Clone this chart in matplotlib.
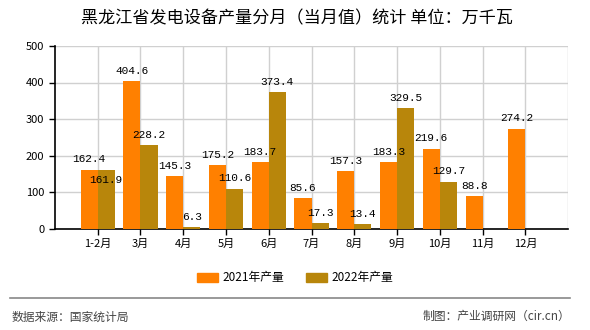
import matplotlib.pyplot as plt
import numpy as np
from matplotlib.patches import Patch
from matplotlib.lines import Line2D

plt.rcParams['font.family'] = ['Noto Sans CJK SC', 'DejaVu Sans']

months = ['1-2月', '3月', '4月', '5月', '6月', '7月', '8月', '9月', '10月', '11月', '12月']
prod_2021 = [162.4, 404.6, 145.3, 175.2, 183.7, 85.6, 157.3, 183.3, 219.6, 88.8, 274.2]
prod_2022 = [161.9, 228.2, 6.3, 110.6, 373.4, 17.3, 13.4, 329.5, 129.7, None, None]

c21 = '#ff8000'
c22 = '#b8860b'

fig = plt.figure(figsize=(5.9, 3.3), dpi=100)
ax = fig.add_axes([0.093, 0.306, 0.87, 0.555])

x = np.arange(len(months))
w = 0.4
ax.bar(x - w/2, prod_2021, width=w, color=c21, zorder=3)
x22 = [i for i, v in zip(x, prod_2022) if v is not None]
v22 = [v for v in prod_2022 if v is not None]
ax.bar(np.array(x22) + w/2, v22, width=w, color=c22, zorder=3)

# value labels (the first 2022 label is pushed down to clear the 2021 one)
for i, v in zip(x, prod_2021):
    ax.text(i - w/2, v + 14, '%.1f' % v, ha='center', va='bottom',
            fontsize=8, family='Liberation Mono', zorder=4)
for i, v in zip(x22, v22):
    dy = 14 if i != 0 else -42
    ax.text(i + w/2, v + dy, '%.1f' % v, ha='center', va='bottom',
            fontsize=8, family='Liberation Mono', zorder=4)

ax.set_xlim(-1, 11)
ax.set_ylim(0, 500)
ax.set_yticks(range(0, 501, 100))
ax.set_xticks(x)
ax.set_xticklabels(months, fontsize=8)
ax.tick_params(axis='y', labelsize=8, length=4, width=1)
ax.tick_params(axis='x', length=4, width=1, pad=3)
ax.grid(True, color='#d0d0d0', linewidth=1, zorder=0)
for s in ['top', 'right']:
    ax.spines[s].set_visible(False)
ax.axvline(11, color='#d0d0d0', linewidth=1, zorder=0)
ax.spines['left'].set_linewidth(1.2)
ax.spines['bottom'].set_linewidth(1.2)

fig.text(0.503, 0.945, '黑龙江省发电设备产量分月（当月值）统计 单位：万千瓦',
         ha='center', va='center', fontsize=12.3)

handles = [Patch(color=c21, label='2021年产量'), Patch(color=c22, label='2022年产量')]
fig.legend(handles=handles, loc='center', bbox_to_anchor=(0.5, 0.158), ncol=2,
           frameon=False, fontsize=8.5, handlelength=1.8, handleheight=0.8,
           columnspacing=1.8, handletextpad=0.4)

fig.add_artist(Line2D([0.017, 0.966], [0.097, 0.097], color='#888888', linewidth=1.2))
fig.text(0.02, 0.04, '数据来源：国家统计局', ha='left', va='center', fontsize=8.5, color='#444444')
fig.text(0.966, 0.04, '制图：产业调研网（cir.cn）', ha='right', va='center', fontsize=8.5, color='#444444')

fig.savefig('out.png', dpi=100)
